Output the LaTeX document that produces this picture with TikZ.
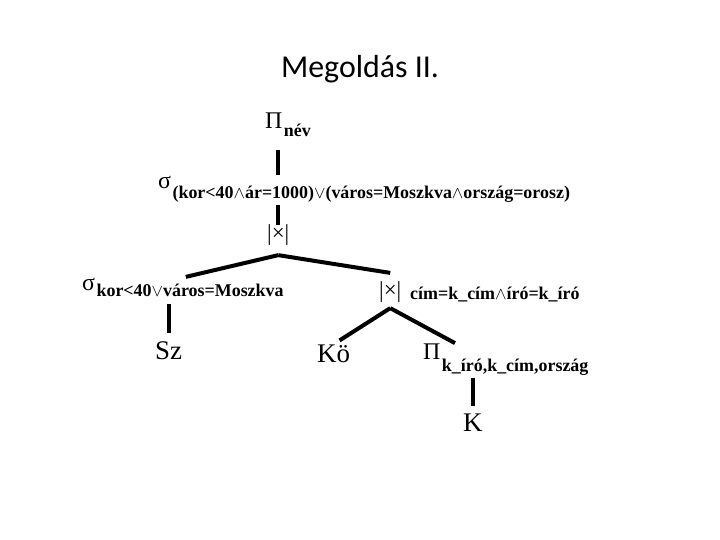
\documentclass[tikz,border=0pt]{standalone}
\usepackage{fontspec}
\setmainfont{Liberation Serif}
\newfontfamily\titlefont{Carlito}
\usepackage{tikz}
\usetikzlibrary{positioning,backgrounds}
\newcommand{\andop}{$\wedge$}
\newcommand{\orop}{$\vee$}
\newcommand{\opsub}[2][8bp]{\kern1.5bp\raisebox{-#1}{\fontsize{18}{18}\selectfont\bfseries #2}}
\tikzset{
  raop/.style={inner sep=0pt, anchor=base west, font=\fontsize{24}{24}\selectfont},
  rajoin/.style={inner sep=0pt, anchor=base west, font=\fontsize{23}{23}\selectfont},
  raname/.style={inner sep=0pt, anchor=base west, font=\fontsize{27}{27}\selectfont},
  racond/.style={inner sep=0pt, anchor=base west, font=\fontsize{18}{18}\selectfont\bfseries},
  raedge/.style={line width=4bp, draw=black}
}

\begin{document}
\begin{tikzpicture}[x=1bp,y=-1bp]
\useasboundingbox (0,0) rectangle (720,540);

% ---- title ----
\node[font=\titlefont\fontsize{32}{32}\selectfont, anchor=base] (title) at (360,78) {Megoldás II.};

% ---- operators, top to bottom ----
\node[raop] (proj1) at (265,129) {Π\opsub{név}};
\node[raop, fill=white, inner sep=2bp] (sel1) at (156,189)
  {σ\opsub[10bp]{(kor<40\andop ár=1000)\orop(város=Moszkva\andop ország=orosz)}};
\node[rajoin] (join1) at (267,241) {|×|};
\node[raop] (sel2) at (82,290) {σ\opsub[6bp]{kor<40\orop város=Moszkva}};
\node[raname] (Sz) at (155,359) {Sz};
\node[rajoin] (join2) at (379,297) {|×|};
\node[racond] (join2cond) at (410,299) {cím=k\_cím\andop író=k\_író};
\node[raname] (Ko) at (317,362) {Kö};
\node[raop] (proj2) at (423,359) {Π\opsub[12bp]{k\_író,k\_cím,ország}};
\node[raname] (K) at (463,431) {K};

% ---- tree edges (behind the labels) ----
\begin{scope}[on background layer]
\draw[raedge, shorten >=13bp] (join1.north) -- (join1.north |- proj1.south);
\draw[raedge, shorten >=3bp] ([yshift=-9bp]join1.south) -- (sel2.north);
\draw[raedge] ([yshift=-9bp]join1.south) -- ([yshift=8bp]join2.north);
\draw[raedge, shorten <=8bp, shorten >=8bp] (Sz.north) -- (Sz.north |- sel2.south);
\draw[raedge, shorten >=7bp] ([yshift=-6bp]join2.south) -- (Ko.north);
\draw[raedge] ([yshift=-6bp]join2.south) -- ([xshift=32bp]proj2.north west);
\draw[raedge, shorten <=7bp, shorten >=3bp] (K.north) -- (K.north |- proj2.south);
\end{scope}

\end{tikzpicture}
\end{document}
